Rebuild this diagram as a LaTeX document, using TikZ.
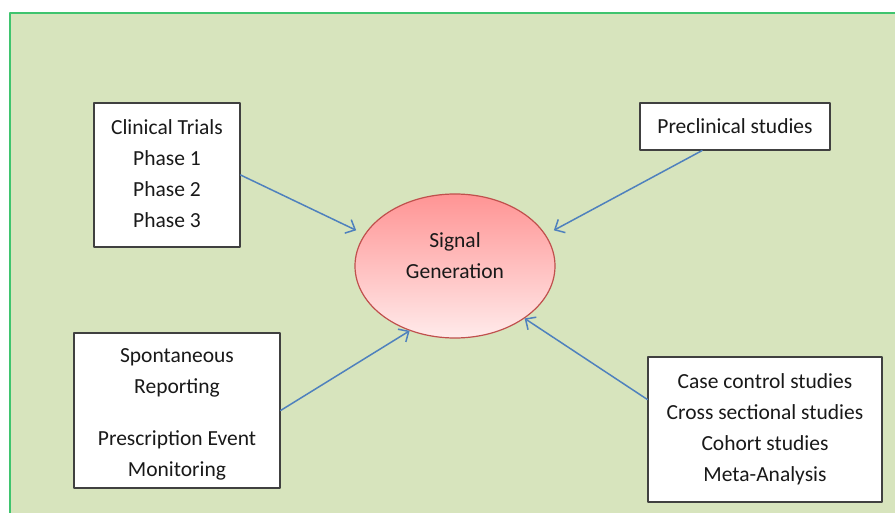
\documentclass[tikz,border=0pt]{standalone}
\usepackage{fontspec}
\setmainfont{Carlito}
\usetikzlibrary{shapes.geometric,arrows.meta}
\definecolor{bgreen}{HTML}{D7E4BD}
\definecolor{fgreen}{HTML}{3FC46E}
\definecolor{arrblue}{HTML}{4F81BD}
\definecolor{sigred}{HTML}{C0504D}
\begin{document}
\begin{tikzpicture}[x=1pt, y=1pt, line join=round, line cap=round,
	font=\fontsize{21.5}{31}\selectfont, text=black!90,
	box/.style={draw=black!75, line width=1.2pt, fill=white, align=center, inner sep=0pt},
	sig/.style={ellipse, draw=sigred, line width=1.2pt, top color=red!42, bottom color=red!8, minimum width=200pt, minimum height=144pt, inner sep=0pt},
	arr/.style={draw=arrblue, line width=1.5pt, -{Straight Barb[length=8pt,width=15pt]}}]
			\useasboundingbox (0,0) rectangle (895,-513);
			\fill[bgreen] (10,-13) rectangle (895,-513);
			\draw[fgreen, line width=1.5pt] (10,-520) -- (10,-13) -- (900,-13);
			\path 
			(167,-175) node[box, minimum width=146pt, minimum height=144pt, text depth=3pt] (clin) {Clinical Trials\\Phase 1\\Phase 2\\Phase 3}
			(735,-126.5) node[box, minimum width=190pt, minimum height=47pt] (pre) {Preclinical studies}
			(177,-410.5) node[box, minimum width=206pt, minimum height=155pt] (spon) {\rule{0pt}{22pt}Spontaneous\\Reporting\\[21pt]Prescription Event\\Monitoring}
			(765,-429.5) node[box, minimum width=234pt, minimum height=145pt] (case) {Case control studies\\Cross sectional studies\\Cohort studies\\Meta-Analysis}
			(455,-266) node[sig, label={[yshift=10pt, align=center]center:Signal\\Generation}] (gen) {};
			\draw[arr] (clin.east) -- ([shift={(-9pt,3pt)}]gen.160);
			\draw[arr] ([xshift=-33pt]pre.south) -- ([shift={(9pt,3pt)}]gen.20);
			\draw[arr] (spon.east) -- (gen.235);
			\draw[arr] ([yshift=30pt]case.west) -- (gen.323);
	\end{tikzpicture}
\end{document}
